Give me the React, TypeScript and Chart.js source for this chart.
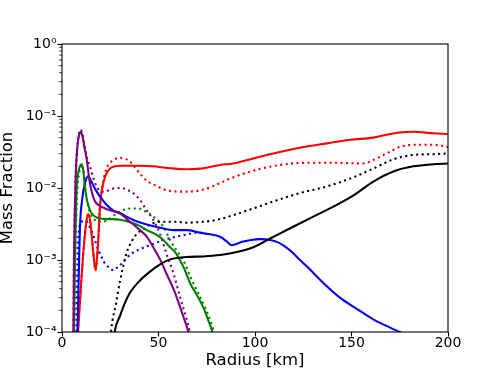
import React, { useEffect, useRef } from "react";
import { Chart, registerables } from "chart.js";

Chart.register(...registerables);

// ---- axis ticks ----
const xTickValues = [0, 50, 100, 150, 200];
const yTickValues = [1e-4, 1e-3, 1e-2, 1e-1, 1];
const yTickLabels = ["10⁻⁴", "10⁻³", "10⁻²", "10⁻¹", "10⁰"];
const xTitle = "Radius [km]";
const yTitle = "Mass Fraction";

// ---- series (radius in km, mass fraction) ----
const redSolidR = [7.5, 8.3, 9.5, 11, 12.5, 13.6, 14.8, 16.2, 17.4, 18.2, 18.8, 19.7, 21.4, 23, 24.9, 27.5, 30, 35, 40, 47, 55, 64.6, 71.5, 81.9, 88.8, 99.1, 109.5, 123.3, 137.1, 149.2, 161.3, 168.2, 175.1, 182, 192.4, 200];
const redSolidV = [5e-5, 1e-4, 3.2e-4, 1.23e-3, 3.2e-3, 4.4e-3, 3.2e-3, 1.26e-3, 7.2e-4, 1.12e-3, 1.9e-3, 5.6e-3, 0.0117, 0.0158, 0.0186, 0.02, 0.0204, 0.0204, 0.0204, 0.02, 0.019, 0.0182, 0.0186, 0.0209, 0.0219, 0.0257, 0.0302, 0.0363, 0.0417, 0.0468, 0.0501, 0.055, 0.0589, 0.0603, 0.0575, 0.0562];

const redDotR = [7.5, 8.3, 9.5, 11, 12.5, 13.6, 14.8, 16.2, 17.4, 18.2, 18.8, 19.7, 21.4, 23, 25, 27.5, 30, 32, 35.2, 40.4, 44, 48, 56, 64.6, 73.2, 81.9, 85.3, 99.1, 113, 126.8, 140.6, 156.1, 161.3, 168.2, 175.1, 182, 192.4, 200];
const redDotV = [5e-5, 1e-4, 3.2e-4, 1.23e-3, 3.2e-3, 4.4e-3, 3.2e-3, 1.26e-3, 7.2e-4, 1.12e-3, 1.9e-3, 5.6e-3, 0.0125, 0.0185, 0.0225, 0.0252, 0.0263, 0.0257, 0.0234, 0.0158, 0.0126, 0.011, 0.0091, 0.0089, 0.0095, 0.0117, 0.0129, 0.0174, 0.0209, 0.0224, 0.0224, 0.0219, 0.0245, 0.0302, 0.0372, 0.0398, 0.0398, 0.0372];

const blueSolidR = [7.6, 8.0, 8.7, 9.3, 10.5, 12, 13.6, 15, 16.5, 18, 20.5, 23.2, 26.5, 30, 33.5, 36.9, 43.9, 50.8, 57.7, 64.6, 71.5, 76, 81.9, 85.5, 87.9, 90, 93.9, 98, 102.6, 107.8, 111, 114.7, 119, 123.3, 128, 135.4, 144, 152.7, 161.3, 170, 175, 185, 200];
const blueSolidV = [5e-5, 1e-4, 6.3e-4, 2.8e-3, 7.1e-3, 0.012, 0.0145, 0.0126, 0.0105, 0.0089, 0.0071, 0.0058, 0.0049, 0.0045, 0.004, 0.0036, 0.0031, 0.0028, 0.0026, 0.0026, 0.0024, 0.0023, 0.0021, 0.0018, 0.0016, 0.00166, 0.0018, 0.0019, 0.00195, 0.0019, 0.0018, 0.0016, 0.0013, 0.001, 7.6e-4, 4.8e-4, 3e-4, 2.1e-4, 1.5e-4, 1.15e-4, 1e-4, 7.6e-5, 5.6e-5];

const blueDotR = [7.0, 7.5, 7.9, 8.3, 9.0, 10.2, 11.9, 13.5, 15.4, 17, 18.8, 20.5, 22.3, 24.5, 26.6, 28.5, 30.9, 33.5, 36.1, 40, 43.9, 48, 52.5, 57, 62.8, 69.8, 75];
const blueDotV = [5e-5, 1e-4, 5e-4, 1.6e-3, 2.8e-3, 3.4e-3, 3.5e-3, 3.2e-3, 2.5e-3, 1.9e-3, 1.4e-3, 1.1e-3, 8.9e-4, 7.8e-4, 7.2e-4, 7.8e-4, 8.9e-4, 1.07e-3, 1.23e-3, 1.4e-3, 1.55e-3, 1.7e-3, 1.9e-3, 2.05e-3, 2.2e-3, 2.4e-3, 2.3e-3];

const greenSolidR = [5.8, 6.2, 6.7, 7.2, 7.6, 8.5, 9.4, 10.2, 11, 11.9, 12.8, 13.6, 14.8, 16.2, 18, 19.7, 22.3, 26, 30.9, 36.1, 40, 44, 48.2, 52.5, 56, 58.5, 61.1, 63.5, 66.3, 69.5, 73.2, 76, 77.6, 79];
const greenSolidV = [5e-5, 1e-4, 1e-3, 4e-3, 0.01, 0.0166, 0.0204, 0.0214, 0.0178, 0.01, 0.0071, 0.0058, 0.0047, 0.0042, 0.0039, 0.0038, 0.0037, 0.0037, 0.0036, 0.0033, 0.003, 0.0026, 0.0023, 0.0019, 0.0015, 0.0013, 0.001, 7.4e-4, 4.8e-4, 3.4e-4, 2.2e-4, 1.4e-4, 1.07e-4, 7e-5];

const greenDotR = [6.0, 6.4, 6.9, 7.4, 8.0, 8.8, 9.6, 10.4, 11.3, 12.3, 13.5, 15, 17, 19, 21, 23, 26, 30, 33.5, 36.9, 39.5, 42.1, 47.3, 52.5, 56, 59, 62.8, 66, 68, 71, 74.1, 77, 78.4, 80];
const greenDotV = [5e-5, 1e-4, 1e-3, 4e-3, 0.01, 0.0158, 0.019, 0.0195, 0.0158, 0.0089, 0.0056, 0.0043, 0.0036, 0.0034, 0.0034, 0.0035, 0.004, 0.0047, 0.0051, 0.0052, 0.0052, 0.0049, 0.004, 0.0029, 0.0019, 0.0014, 0.001, 6.3e-4, 4.8e-4, 3.3e-4, 2.2e-4, 1.4e-4, 1.07e-4, 7e-5];

const purpleSolidR = [5.5, 5.9, 6.2, 6.5, 6.9, 7.5, 8.3, 9.0, 9.7, 10.5, 11.5, 12.8, 14, 15.4, 17, 18.8, 22.3, 26, 30.1, 35.2, 40.4, 44, 47, 50.8, 54.2, 57.7, 60, 62.8, 65.4, 67];
const purpleSolidV = [5e-5, 1e-4, 1e-3, 3.2e-3, 0.01, 0.025, 0.045, 0.056, 0.06, 0.054, 0.038, 0.025, 0.014, 0.0089, 0.0066, 0.0058, 0.0052, 0.0048, 0.0044, 0.0034, 0.0026, 0.0021, 0.00155, 0.00102, 6.4e-4, 4e-4, 2.75e-4, 1.66e-4, 1.02e-4, 7e-5];

const purpleDotR = [5.5, 5.9, 6.2, 6.5, 6.9, 7.5, 8.3, 9.0, 9.7, 10.6, 11.8, 13, 14.5, 16.2, 18, 19.7, 22, 25, 28.3, 30.9, 33.5, 36.9, 40.4, 43.9, 47.3, 50.8, 54.2, 57.7, 61.1, 64.6, 66, 67.5];
const purpleDotV = [5e-5, 1e-4, 1e-3, 3.2e-3, 0.01, 0.025, 0.047, 0.06, 0.065, 0.056, 0.038, 0.026, 0.02, 0.0138, 0.0105, 0.0091, 0.0089, 0.0095, 0.01, 0.01, 0.0095, 0.0085, 0.0068, 0.0049, 0.0036, 0.0023, 0.0012, 6.6e-4, 3.1e-4, 1.5e-4, 1.07e-4, 7e-5];

const blackSolidR = [26, 27.5, 30, 32.5, 35.2, 40.4, 45.6, 50.8, 56, 64.6, 73.2, 81.9, 88.8, 99.1, 109.5, 119.8, 130.2, 140.6, 151, 161.3, 171.7, 182, 192.4, 200];
const blackSolidV = [5e-5, 1.07e-4, 1.66e-4, 2.5e-4, 3.5e-4, 5.2e-4, 6.9e-4, 8.7e-4, 1.02e-3, 1.1e-3, 1.12e-3, 1.17e-3, 1.26e-3, 1.5e-3, 2.1e-3, 2.9e-3, 4e-3, 5.5e-3, 7.9e-3, 0.0123, 0.017, 0.02, 0.0214, 0.0219];

const blackDotR = [24.5, 25.5, 28, 30, 33.5, 36, 38.7, 41.3, 45.6, 50.8, 58.5, 64.6, 73.2, 80, 88.8, 99.1, 109.5, 123.3, 137.1, 149.2, 161.3, 171.7, 182, 192.4, 200];
const blackDotV = [5e-5, 1.07e-4, 2.5e-4, 5e-4, 1.26e-3, 1.8e-3, 2.3e-3, 2.6e-3, 3.1e-3, 3.4e-3, 3.4e-3, 3.3e-3, 3.4e-3, 3.6e-3, 4.2e-3, 5.2e-3, 6.5e-3, 8.5e-3, 0.0105, 0.0135, 0.0186, 0.025, 0.0288, 0.0295, 0.0302];

const pts = (r: number[], v: number[]) => r.map((x, i) => ({ x, y: v[i] }));

const DOT = [2.1, 3.4];

function series(r: number[], v: number[], color: string, dotted: boolean) {
  return {
    data: pts(r, v),
    borderColor: color,
    backgroundColor: color,
    borderWidth: 2.08,
    borderDash: dotted ? DOT : [],
    borderCapStyle: "butt" as const,
    pointRadius: 0,
    fill: false,
    cubicInterpolationMode: "monotone" as const,
    clip: 0,
  };
}

const framePlugin = {
  id: "frame",
  afterDraw(chart: any) {
    const { ctx, chartArea } = chart;
    const y = chart.scales.y;
    ctx.save();
    // minor log ticks
    ctx.strokeStyle = "#000";
    ctx.lineWidth = 0.8;
    for (let e = -4; e < 0; e++) {
      for (let k = 2; k <= 9; k++) {
        const py = y.getPixelForValue(k * Math.pow(10, e));
        ctx.beginPath();
        ctx.moveTo(chartArea.left - 2.8, py);
        ctx.lineTo(chartArea.left, py);
        ctx.stroke();
      }
    }
    ctx.lineWidth = 1.1;
    ctx.strokeRect(chartArea.left, chartArea.top, chartArea.right - chartArea.left, chartArea.bottom - chartArea.top);
    ctx.restore();
  },
};

export default function App() {
  const ref = useRef<HTMLCanvasElement>(null);
  useEffect(() => {
    if (!ref.current) return;
    Chart.defaults.font.family = "'DejaVu Sans', sans-serif";
    Chart.defaults.color = "#000";
    const chart = new Chart(ref.current, {
      type: "line",
      data: {
        datasets: [
          series(blackSolidR, blackSolidV, "#000000", false),
          series(purpleSolidR, purpleSolidV, "#800080", false),
          series(greenSolidR, greenSolidV, "#008000", false),
          series(blueSolidR, blueSolidV, "#0000ff", false),
          series(redSolidR, redSolidV, "#ff0000", false),
          series(blackDotR, blackDotV, "#000000", true),
          series(purpleDotR, purpleDotV, "#800080", true),
          series(greenDotR, greenDotV, "#008000", true),
          series(blueDotR, blueDotV, "#0000ff", true),
          series(redDotR, redDotV, "#ff0000", true),
        ] as any,
      },
      options: {
        animation: false,
        responsive: false,
        devicePixelRatio: 1,
        events: [],
        layout: { padding: { top: 44, right: 50, left: 0, bottom: 0 } },
        plugins: { legend: { display: false }, tooltip: { enabled: false } },
        scales: {
          x: {
            type: "linear",
            min: 0,
            max: 200,
            afterFit: (s: any) => {
              s.height = 41;
            },
            afterBuildTicks: (s: any) => {
              s.ticks = xTickValues.map((v) => ({ value: v }));
            },
            border: { display: false },
            grid: { display: true, drawOnChartArea: false, drawTicks: true, tickLength: 4.5, tickColor: "#000", tickWidth: 1.1 },
            ticks: {
              color: "#000",
              font: { size: 14, lineHeight: 1 },
              padding: 0,
              maxRotation: 0,
              autoSkip: false,
              callback: (v: any) => String(v),
            },
            title: {
              display: true,
              text: xTitle,
              color: "#000",
              font: { size: 16.5, lineHeight: 1.2 },
              padding: { top: 0, bottom: 2 },
            },
          },
          y: {
            type: "logarithmic",
            min: 1e-4,
            max: 1,
            afterFit: (s: any) => {
              s.width = 62;
            },
            afterBuildTicks: (s: any) => {
              s.ticks = yTickValues.map((v) => ({ value: v }));
            },
            border: { display: false },
            grid: { display: true, drawOnChartArea: false, drawTicks: true, tickLength: 4.5, tickColor: "#000", tickWidth: 1.1 },
            ticks: {
              color: "#000",
              font: { size: 14, lineHeight: 1 },
              padding: 1,
              autoSkip: false,
              callback: (_v: any, i: number) => yTickLabels[i],
            },
            title: {
              display: true,
              text: yTitle,
              color: "#000",
              font: { size: 16.5, lineHeight: 0.92 },
              padding: { top: 0, bottom: 0 },
            },
          },
        },
      } as any,
      plugins: [framePlugin],
    });
    return () => chart.destroy();
  }, []);
  return (
    <div style={{ position: "absolute", left: 0, top: 0, width: 498, height: 373 }}>
      <canvas ref={ref} width={498} height={373} style={{ width: 498, height: 373, display: "block" }} />
    </div>
  );
}
